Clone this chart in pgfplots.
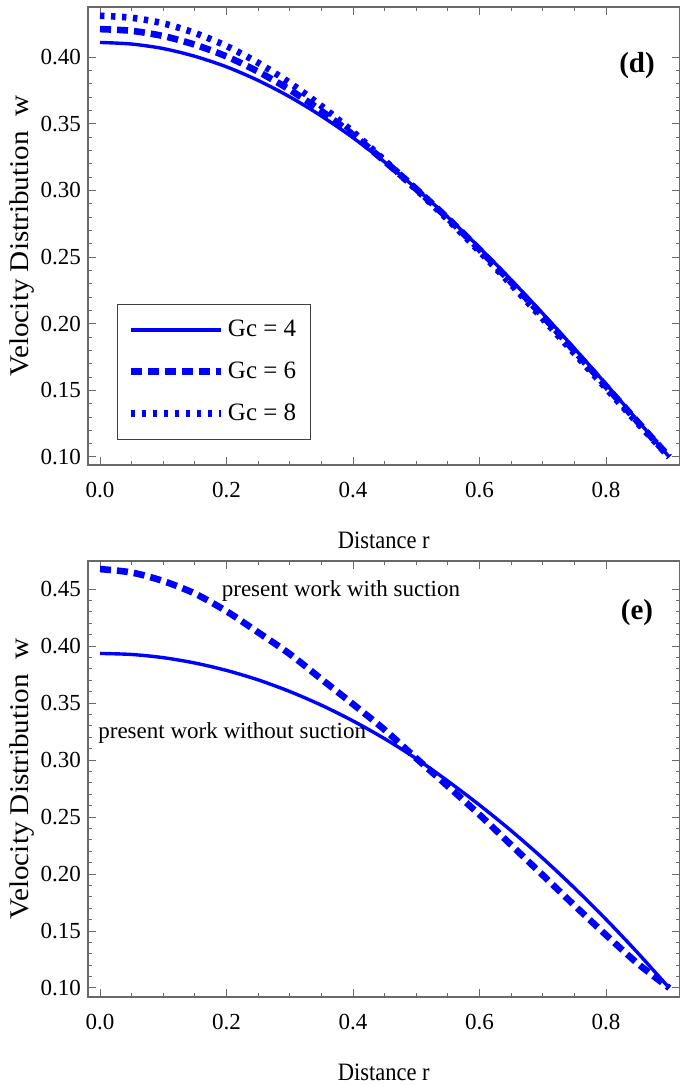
\documentclass[border=0pt]{standalone}
\usepackage{fontspec}
\setmainfont{Liberation Serif}
\usepackage{graphicx}
\usepackage{pgfplots}
\pgfplotsset{compat=1.18}

\definecolor{mblue}{RGB}{0,0,255}
\definecolor{framegray}{RGB}{105,105,105}

\pgfplotsset{
  mmaframe/.style={
    scale only axis, width=295.75pt,
    xmin=-0.019, xmax=0.9162,
    xtick={0,0.2,0.4,0.6,0.8}, minor x tick num=3,
    minor y tick num=4,
    tick align=inside,
    major tick length=3.8pt, minor tick length=1.9pt,
    axis line style={framegray, line width=0.7pt},
    tick style={framegray, line width=0.5pt},
    tick label style={font=\fontsize{11.5}{13}\selectfont, black},
    /pgf/number format/assume math mode=true,
    x tick label style={/pgf/number format/fixed, /pgf/number format/fixed zerofill, /pgf/number format/precision=1, yshift=-5pt},
    y tick label style={/pgf/number format/fixed, /pgf/number format/fixed zerofill, /pgf/number format/precision=2},
    xlabel={\scalebox{0.9}[1]{Distance r}},
    xlabel style={at={(axis description cs:0.5,0)}, anchor=center, yshift=-37.5pt, font=\fontsize{12.5}{14}\selectfont},
    ylabel={\scalebox{1.08}[1]{Velocity Distribution\ \ w}},
    ylabel style={at={(axis description cs:-0.1116,0.5)}, anchor=center, font=\fontsize{13.5}{15}\selectfont},
  },
  solidw/.style={mblue, line width=1.7pt, smooth},
  dashw/.style={mblue, line width=3.3pt, dash pattern=on 5.5pt off 3pt, smooth},
  dotw/.style={mblue, line width=3.3pt, dash pattern=on 2.2pt off 3.3pt, smooth},
}

\pgfplotstableread{
r     gc4     gc6     gc8
0.00  0.4110  0.4210  0.4310
0.05  0.4098  0.4197  0.4295
0.10  0.4064  0.4158  0.4253
0.15  0.4006  0.4093  0.4181
0.20  0.3927  0.4005  0.4083
0.25  0.3825  0.3891  0.3957
0.30  0.3702  0.3755  0.3807
0.35  0.3558  0.3596  0.3633
0.40  0.3395  0.3417  0.3439
0.45  0.3213  0.3219  0.3225
0.50  0.3014  0.3010  0.3006
0.55  0.2799  0.2790  0.2780
0.60  0.2570  0.2556  0.2542
0.65  0.2329  0.2311  0.2294
0.70  0.2076  0.2057  0.2037
0.75  0.1815  0.1796  0.1777
0.80  0.1547  0.1531  0.1515
0.85  0.1274  0.1264  0.1254
0.90  0.1000  0.1000  0.1000
}\paneld

\pgfplotstableread{
r     without  with
0.00  0.3935   0.4675
0.05  0.3926   0.4645
0.10  0.3898   0.4570
0.15  0.3851   0.4460
0.20  0.3786   0.4305
0.25  0.3703   0.4120
0.30  0.3601   0.3930
0.35  0.3481   0.3710
0.40  0.3343   0.3490
0.45  0.3187   0.3265
0.50  0.3012   0.3015
0.55  0.2815   0.2770
0.60  0.2605   0.2520
0.65  0.2380   0.2255
0.70  0.2138   0.1990
0.75  0.1878   0.1725
0.80  0.1602   0.1465
0.85  0.1309   0.1215
0.90  0.1000   0.1000
}\panele

\begin{document}
\begin{tikzpicture}
\useasboundingbox (0,0) rectangle (340pt,543pt);

% panel (d)
\begin{axis}[mmaframe, at={(44pt,310.5pt)}, anchor=south west,
  height=229pt, ymin=0.094, ymax=0.4376,
  ytick={0.10,0.15,0.20,0.25,0.30,0.35,0.40},
  legend style={at={(0.049,0.3515)}, anchor=north west, draw=black!75, fill=white,
    font=\fontsize{12.5}{14}\selectfont, row sep=7pt, inner xsep=5pt, inner ysep=6pt,
    /tikz/every even column/.append style={column sep=2pt}},
  legend cell align=left,
  legend image code/.code={\draw[#1] (0pt,0pt) -- (45pt,0pt);}]
\addplot[solidw] table[x=r, y=gc4] {\paneld};
\addplot[dashw] table[x=r, y=gc6] {\paneld};
\addplot[dotw] table[x=r, y=gc8] {\paneld};
\legend{Gc = 4, Gc = 6, Gc = 8}
\node[font=\bfseries\fontsize{14.5}{16}\selectfont] at (axis cs:0.849,0.394) {(d)};
\end{axis}

% panel (e)
\begin{axis}[mmaframe, at={(44pt,44.5pt)}, anchor=south west,
  height=218pt, ymin=0.0921, ymax=0.4746,
  ytick={0.10,0.15,0.20,0.25,0.30,0.35,0.40,0.45}]
\addplot[solidw] table[x=r, y=without] {\panele};
\addplot[dashw] table[x=r, y=with] {\panele};
\node[font=\fontsize{11.5}{13}\selectfont] at (axis cs:0.381,0.448) {present work with suction};
\node[font=\fontsize{11.5}{13}\selectfont] at (axis cs:0.209,0.3237) {present work without suction};
\node[font=\bfseries\fontsize{14.5}{16}\selectfont] at (axis cs:0.849,0.4298) {(e)};
\end{axis}
\end{tikzpicture}
\end{document}
